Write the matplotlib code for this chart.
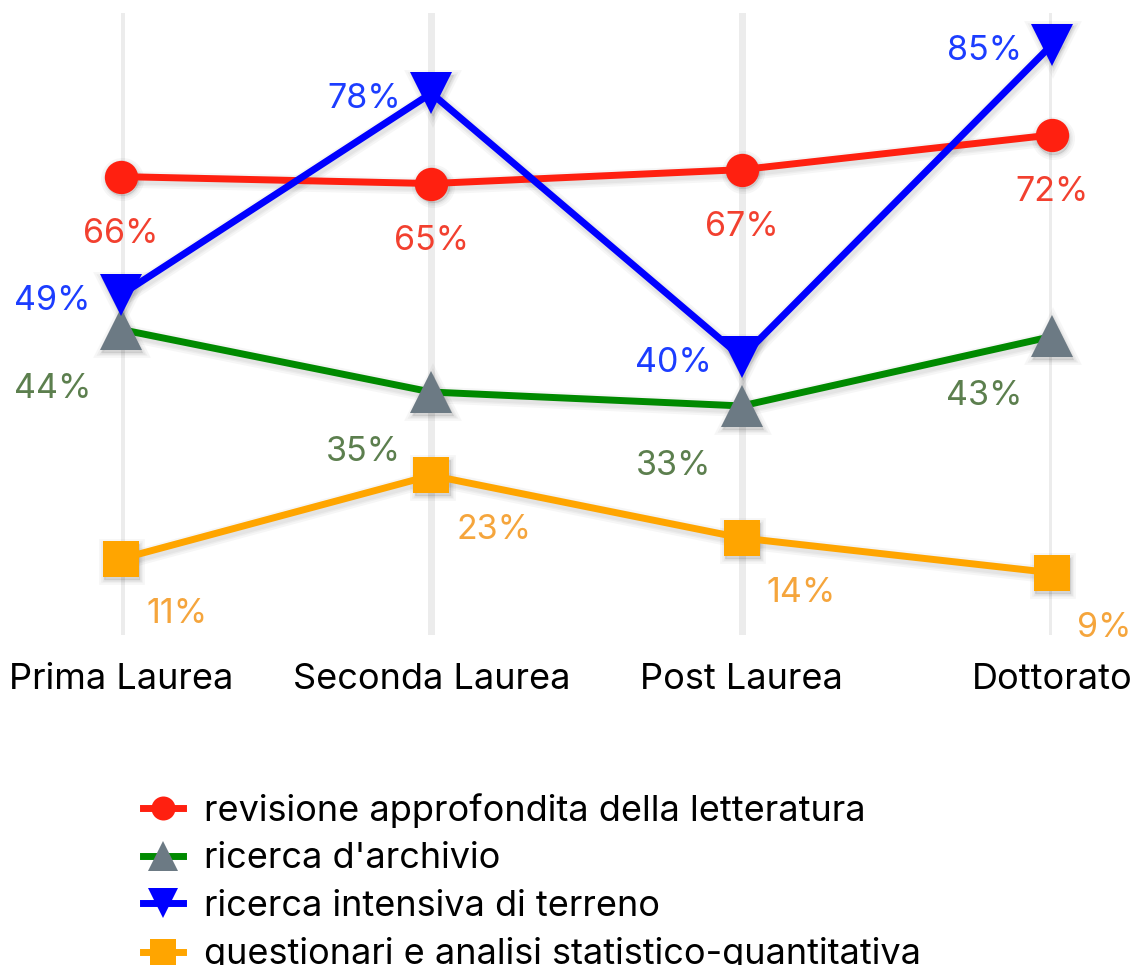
import matplotlib.pyplot as plt
from matplotlib.lines import Line2D
from matplotlib.transforms import ScaledTranslation

plt.rcParams['font.family'] = ['Inter', 'DejaVu Sans']

# Livelli di formazione e percentuali per metodo di ricerca
livelli = ["Prima Laurea", "Seconda Laurea", "Post Laurea", "Dottorato"]
letteratura = [66, 65, 67, 72]
archivio = [44, 35, 33, 43]
terreno = [49, 78, 40, 85]
questionari = [11, 23, 14, 9]

nomi = [
    "revisione approfondita della letteratura",
    "ricerca d'archivio",
    "ricerca intensiva di terreno",
    "questionari e analisi statistico-quantitativa",
]

# name, values, line colour, marker, marker colour, marker size, label colour, label offset (px), alignment
serie = [
    (nomi[0], letteratura, "#ff2010", "o", "#ff2010", 24, "#f2402f", (0, -57), "center"),
    (nomi[1], archivio, "#008a00", "^", "#6c7a84", 30, "#5c7f4e", (-30, -60), "right"),
    (nomi[2], terreno, "#0000ff", "v", "#0000ff", 30, "#1c3dff", (-30, -6), "right"),
    (nomi[3], questionari, "#ffa500", "s", "#ffa500", 26, "#f5a53c", (25, -55), "left"),
]

FS_VAL = 24.5
FS = 26

fig = plt.figure(figsize=(11.44, 9.65), dpi=100)
ax = fig.add_axes([121 / 1144, 329.7 / 965, 931 / 1144, 622.3 / 965])
x = list(range(len(livelli)))

for xi in x:
    ax.axvline(xi, color="#ececec", lw=5, zorder=0)

shift = ScaledTranslation(1 / 72, -2 / 72, fig.dpi_scale_trans)
for nome, vals, col, m, mcol, ms, lcol, off, ha in serie:
    # soft drop shadow under line and markers
    for grow in (7, 4, 2):
        ax.plot(x, vals, color="black", alpha=0.035, lw=5 + grow, marker=m,
                ms=ms, mew=grow, mec="black", mfc="black",
                transform=ax.transData + shift, clip_on=False, zorder=1)
    ax.plot(x, vals, color=col, lw=5, marker=m, ms=ms, mfc=mcol, mec=mcol,
            mew=0, clip_on=False, zorder=2)
    for xi, v in zip(x, vals):
        ax.annotate(f"{v}%", (xi, v), xytext=off, textcoords="offset pixels",
                    ha=ha, va="center", fontsize=FS_VAL, color=lcol, zorder=3)

ax.set_xlim(0, 3)
ax.set_ylim(0, 622.3 / 6.95)
ax.set_xticks(x)
ax.set_xticklabels(livelli, fontsize=FS)
ax.tick_params(axis="x", length=0, pad=20)
ax.set_yticks([])
for s in ax.spines.values():
    s.set_visible(False)

handles = [
    Line2D([], [], color=col, lw=5, marker=m, ms=ms * 0.72, mfc=mcol, mec=mcol, mew=0)
    for _, _, col, m, mcol, ms, _, _, _ in serie
]
fig.legend(handles, nomi, loc="upper left", bbox_to_anchor=(143 / 1144, 1 - 793 / 965),
           frameon=False, fontsize=FS, handlelength=1.1, handletextpad=0.58,
           labelspacing=0.4, borderpad=0, borderaxespad=0)

fig.savefig("out.png", dpi=100)
